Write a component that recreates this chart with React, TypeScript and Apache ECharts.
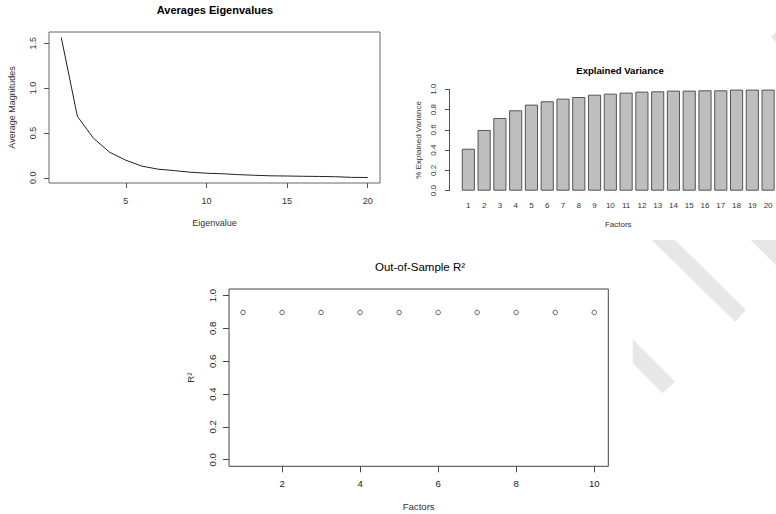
import React, { useEffect, useRef } from "react";
import * as echarts from "echarts";

// ---- Data ----
const eigenIndex = [1, 2, 3, 4, 5, 6, 7, 8, 9, 10, 11, 12, 13, 14, 15, 16, 17, 18, 19, 20];
const eigenValues = [1.565, 0.685, 0.44, 0.285, 0.196, 0.13, 0.096, 0.08, 0.062, 0.051, 0.045, 0.035, 0.028, 0.022, 0.02, 0.017, 0.015, 0.012, 0.005, 0.003];

const varianceFactors = ["1", "2", "3", "4", "5", "6", "7", "8", "9", "10", "11", "12", "13", "14", "15", "16", "17", "18", "19", "20"];
const explainedVariance = [0.414, 0.599, 0.717, 0.793, 0.849, 0.882, 0.908, 0.924, 0.947, 0.957, 0.967, 0.977, 0.98, 0.987, 0.987, 0.99, 0.99, 0.997, 0.997, 0.997];

const oosFactors = [1, 2, 3, 4, 5, 6, 7, 8, 9, 10];
const oosR2 = [0.897, 0.897, 0.897, 0.897, 0.897, 0.897, 0.897, 0.897, 0.897, 0.897];

const eigenXTicks = [5, 10, 15, 20];
const eigenYTicks = [0, 0.5, 1.0, 1.5];
const oosXTicks = [2, 4, 6, 8, 10];
const oosYTicks = [0, 0.2, 0.4, 0.6, 0.8, 1.0];

const FONT = "'Liberation Sans', Arial, sans-serif";

export default function App() {
  const ref = useRef<HTMLDivElement>(null);

  useEffect(() => {
    if (!ref.current) return;
    const chart = echarts.init(ref.current, null, { renderer: "svg" });

    const fmt1 = (v: number) => Number(v).toFixed(1);

    const option: any = {
      animation: false,
      backgroundColor: "#ffffff",
      textStyle: { fontFamily: FONT },
      graphic: [
        // watermark stripes
        { type: "polygon", z: -10, shape: { points: [[651.7, 240], [675, 240], [746, 310], [735, 321.7]] }, style: { fill: "#e7e7e7" } },
        { type: "polygon", z: -10, shape: { points: [[750.7, 240], [776, 240], [776, 265.3]] }, style: { fill: "#e7e7e7" } },
        { type: "polygon", z: -10, shape: { points: [[632.7, 339.3], [675, 381.7], [662.7, 393.3], [632.7, 363.3]] }, style: { fill: "#e7e7e7" } },
        { type: "polygon", z: -10, shape: { points: [[771, 37], [776, 32], [776, 42]] }, style: { fill: "#e7e7e7" } },
        // titles
        { type: "text", x: 215, y: 10, style: { text: "Averages Eigenvalues", fontSize: 11, fontWeight: "bold", fontFamily: FONT, fill: "#000", align: "center", verticalAlign: "middle" } },
        { type: "text", x: 620, y: 70, style: { text: "Explained Variance", fontSize: 9.6, fontWeight: "bold", fontFamily: FONT, fill: "#000", align: "center", verticalAlign: "middle" } },
        { type: "text", x: 420, y: 267, style: { text: "Out-of-Sample R²", fontSize: 11.5, fontFamily: FONT, fill: "#000", align: "center", verticalAlign: "middle" } },
      ],
      grid: [
        { left: 49, top: 32, width: 331, height: 151, show: true, borderColor: "#666", borderWidth: 1, backgroundColor: "transparent" },
        { left: 460.45, top: 89.3, width: 322, height: 101.4, show: false },
        { left: 229, top: 289, width: 379.3, height: 177.3, show: true, borderColor: "#444", borderWidth: 1, backgroundColor: "transparent" },
      ],
      xAxis: [
        {
          gridIndex: 0, type: "value", min: 0.24, max: 20.76,
          axisLine: { show: false, onZero: false },
          axisTick: { show: true, length: 5, customValues: eigenXTicks, lineStyle: { color: "#555" } },
          axisLabel: { customValues: eigenXTicks, margin: 13, fontSize: 9, color: "#333", fontFamily: FONT },
          splitLine: { show: false },
          name: "Eigenvalue", nameLocation: "middle", nameGap: 35, nameTextStyle: { fontSize: 9, color: "#333", fontFamily: FONT },
        },
        {
          gridIndex: 1, type: "category", data: varianceFactors,
          axisLine: { show: false, onZero: false }, axisTick: { show: false },
          axisLabel: { interval: 0, margin: 11, fontSize: 8, color: "#333", fontFamily: FONT },
          splitLine: { show: false },
          name: "Factors", nameLocation: "middle", nameGap: 30, nameTextStyle: { fontSize: 8, color: "#333", fontFamily: FONT },
        },
        {
          gridIndex: 2, type: "value", min: 0.64, max: 10.36,
          axisLine: { show: false, onZero: false },
          axisTick: { show: true, length: 6, customValues: oosXTicks, lineStyle: { color: "#444" } },
          axisLabel: { customValues: oosXTicks, margin: 12, fontSize: 9.6, color: "#222", fontFamily: FONT },
          splitLine: { show: false },
          name: "Factors", nameLocation: "middle", nameGap: 35.5, nameTextStyle: { fontSize: 9.6, color: "#333", fontFamily: FONT },
        },
      ],
      yAxis: [
        {
          gridIndex: 0, type: "value", min: -0.058, max: 1.625,
          axisLine: { show: false, onZero: false },
          axisTick: { show: true, length: 5, customValues: eigenYTicks, lineStyle: { color: "#555" } },
          axisLabel: { customValues: eigenYTicks, rotate: 90, margin: 12, fontSize: 9, color: "#333", fontFamily: FONT, formatter: fmt1 },
          splitLine: { show: false },
          name: "Average Magnitudes", nameLocation: "middle", nameGap: 33, nameTextStyle: { fontSize: 9, color: "#333", fontFamily: FONT },
        },
        {
          gridIndex: 1, type: "value", min: 0, max: 1, interval: 0.2, offset: 11.45,
          axisLine: { show: true, onZero: false, lineStyle: { color: "#555", width: 1 } },
          axisTick: { show: true, length: 4, lineStyle: { color: "#555" } },
          axisLabel: { rotate: 90, margin: 11.5, fontSize: 8, color: "#333", fontFamily: FONT, formatter: fmt1 },
          splitLine: { show: false },
          name: "% Explained Variance", nameLocation: "middle", nameGap: 26.5, nameTextStyle: { fontSize: 8, color: "#333", fontFamily: FONT },
        },
        {
          gridIndex: 2, type: "value", min: -0.04, max: 1.04,
          axisLine: { show: false, onZero: false },
          axisTick: { show: true, length: 6, customValues: oosYTicks, lineStyle: { color: "#444" } },
          axisLabel: { customValues: oosYTicks, rotate: 90, margin: 12, fontSize: 9.6, color: "#222", fontFamily: FONT, formatter: fmt1 },
          splitLine: { show: false },
          name: "R²", nameLocation: "middle", nameGap: 34, nameTextStyle: { fontSize: 9.6, color: "#333", fontFamily: FONT },
        },
      ],
      series: [
        {
          type: "line", xAxisIndex: 0, yAxisIndex: 0,
          data: eigenIndex.map((x, i) => [x, eigenValues[i]]),
          showSymbol: false, symbol: "none",
          lineStyle: { color: "#222", width: 1 },
        },
        {
          type: "bar", xAxisIndex: 1, yAxisIndex: 1,
          data: explainedVariance,
          barCategoryGap: "16.7%",
          itemStyle: { color: "#bebebe", borderColor: "#555", borderWidth: 1 },
        },
        {
          type: "scatter", xAxisIndex: 2, yAxisIndex: 2,
          data: oosFactors.map((x, i) => [x, oosR2[i]]),
          symbol: "circle", symbolSize: 4.5,
          itemStyle: { color: "rgba(255,255,255,0)", borderColor: "#333", borderWidth: 1 },
        },
      ],
    };

    chart.setOption(option);
    return () => chart.dispose();
  }, []);

  return <div ref={ref} style={{ position: "absolute", left: 0, top: 0, width: 776, height: 514 }} />;
}
